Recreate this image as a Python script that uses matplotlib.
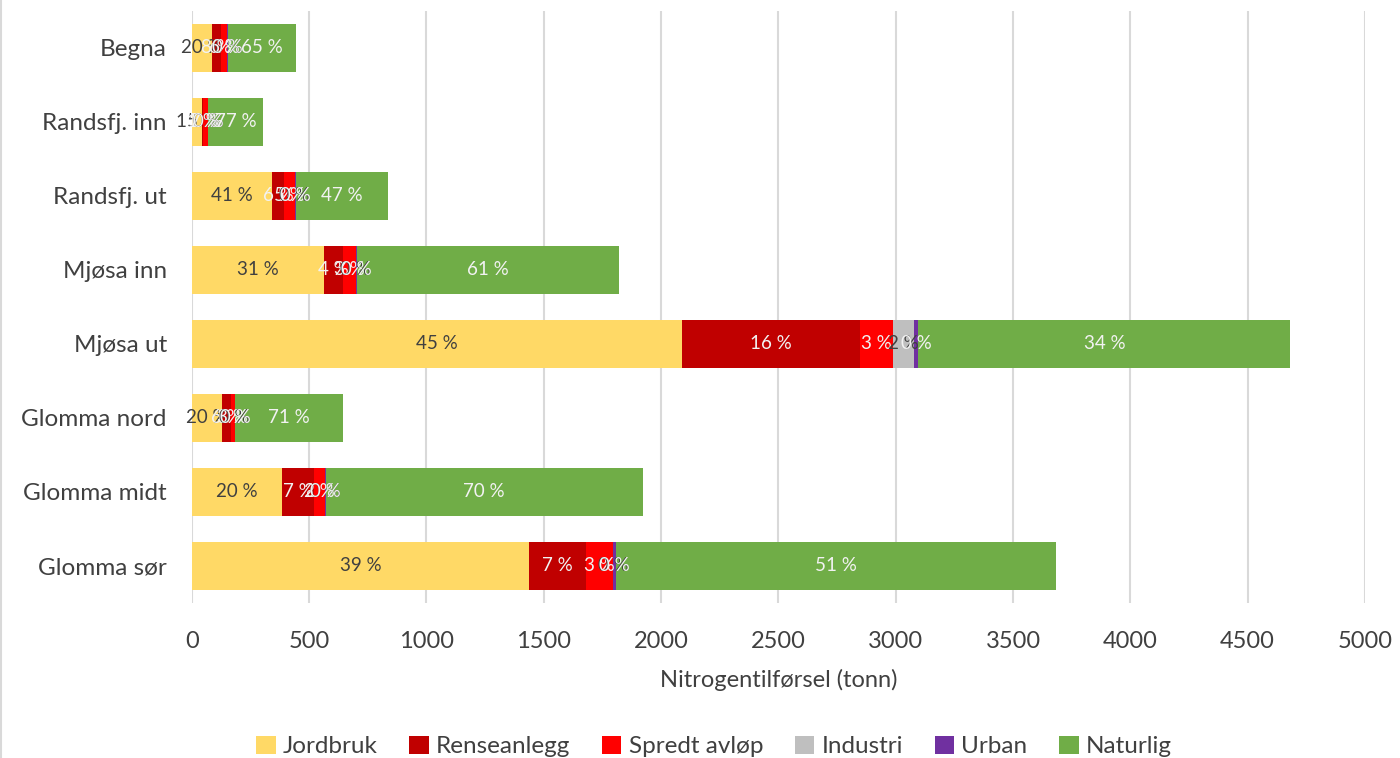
import matplotlib.pyplot as plt
import numpy as np

# Data (tonn nitrogen per kilde)
omraader = ['Begna', 'Randsfj. inn', 'Randsfj. ut', 'Mjøsa inn', 'Mjøsa ut',
            'Glomma nord', 'Glomma midt', 'Glomma sør']
jordbruk = [88, 45, 343, 564, 2089, 129, 385, 1438]
renseanlegg = [36, 3, 50, 80, 760, 37, 135, 244]
spredt_avlop = [28, 21, 45, 55, 138, 17, 48, 114]
industri = [0, 0, 2, 0, 92, 0, 0, 0]
urban = [1, 0, 2, 3, 18, 2, 2, 11]
naturlig = [290, 235, 395, 1118, 1585, 458, 1351, 1876]

kilder = ['Jordbruk', 'Renseanlegg', 'Spredt avløp', 'Industri', 'Urban', 'Naturlig']
farger = ['#FFD966', '#C00000', '#FF0000', '#BFBFBF', '#7030A0', '#70AD47']
tekstfarger = ['#404040', '#F2F2F2', '#F2F2F2', '#404040', '#F2F2F2', '#F2F2F2']

plt.rcParams['font.family'] = ['Lato', 'DejaVu Sans']

fig = plt.figure(figsize=(14, 7.58), dpi=100)
ax = fig.add_axes([0.137, 0.2045, 0.838, 0.781])

serier = [jordbruk, renseanlegg, spredt_avlop, industri, urban, naturlig]
totaler = np.sum(serier, axis=0)
y = np.arange(len(omraader))
venstre = np.zeros(len(omraader))

for navn, verdier, farge, tf in zip(kilder, serier, farger, tekstfarger):
    verdier = np.array(verdier, dtype=float)
    ax.barh(y, verdier, left=venstre, height=0.66, color=farge, label=navn, zorder=3)
    # prosent-etiketter midt i hvert segment
    for i in range(len(omraader)):
        pst = verdier[i] / totaler[i] * 100
        ax.text(venstre[i] + verdier[i] / 2, y[i], f'{pst:.0f} %', ha='center', va='center',
                color=tf, fontsize=13.5, zorder=4)
    venstre += verdier

ax.set_xlim(0, 5000)
ax.set_ylim(len(omraader) - 0.5, -0.5)
ax.set_xticks(np.arange(0, 5001, 500))
ax.set_yticks(y)
ax.set_yticklabels(omraader)
ax.grid(axis='x', color='#D9D9D9', linewidth=1.5, zorder=0)
for s in ax.spines.values():
    s.set_visible(False)
ax.tick_params(axis='y', length=0, pad=18, labelsize=17.5, labelcolor='#404040')
ax.tick_params(axis='x', length=0, pad=20, labelsize=17, labelcolor='#404040')
ax.set_xlabel('Nitrogentilførsel (tonn)', fontsize=17, color='#404040', labelpad=12)

fig.legend(loc='lower center', ncol=6, bbox_to_anchor=(0.51, -0.028), frameon=False,
           fontsize=17.5, labelcolor='#404040', handlelength=0.8, handleheight=0.8,
           handletextpad=0.3, columnspacing=1.3)

# tynn ramme til venstre
fig.add_artist(plt.Line2D([0.0007, 0.0007], [0, 1], color='#D9D9D9', linewidth=1.5))

fig.savefig('out.png', dpi=100)
